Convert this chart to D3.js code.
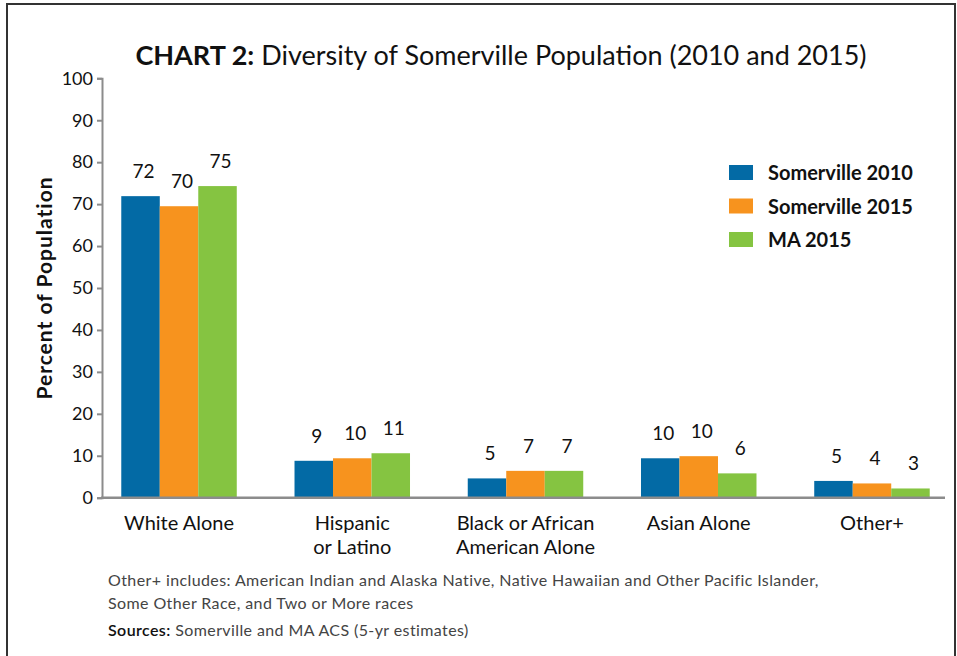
<!DOCTYPE html>
<html>
<head>
<meta charset="utf-8">
<script src="https://cdn.jsdelivr.net/npm/d3@7"></script>
<style>
  body { margin: 0; background: #fff; }
  svg { display: block; font-family: "Lato", "Open Sans", sans-serif; }
</style>
</head>
<body>
<svg id="chart" width="957" height="656"></svg>
<script>
// chart data
const categories = ["White Alone", "Hispanic\nor Latino", "Black or African\nAmerican Alone", "Asian Alone", "Other+"];
const series_names = ["Somerville 2010", "Somerville 2015", "MA 2015"];
const somerville_2010 = [71.9, 8.8, 4.6, 9.4, 4.0];
const somerville_2015 = [69.5, 9.4, 6.4, 9.9, 3.4];
const ma_2015 = [74.3, 10.6, 6.4, 5.8, 2.2];
// the printed labels, as shown on the chart
const labels_2010 = ["72", "9", "5", "10", "5"];
const labels_2015 = ["70", "10", "7", "10", "4"];
const labels_ma = ["75", "11", "7", "6", "3"];
const y_ticks = [0, 10, 20, 30, 40, 50, 60, 70, 80, 90, 100];

const COLORS = ["#036aa5", "#f7931e", "#85c441"];
const AXIS_COLOR = "#8c8c8c";

const series = [
  { name: series_names[0], values: somerville_2010, labels: labels_2010 },
  { name: series_names[1], values: somerville_2015, labels: labels_2015 },
  { name: series_names[2], values: ma_2015, labels: labels_ma },
];

const svg = d3.select("#chart");

// frame (top, left and right edges)
svg.append("path")
  .attr("d", "M7,656 V4 H955 V656")
  .attr("fill", "none")
  .attr("stroke", "#333")
  .attr("stroke-width", 2);

// scales
let y = d3.scaleLinear().domain([0, 100]).range([497.7, 78.3]);
let x0 = d3.scaleBand()
  .domain(categories)
  .range([92.4, 958.6])
  .paddingInner(1 / 3)
  .paddingOuter(1 / 6);
let x1 = d3.scaleBand()
  .domain(series_names)
  .range([0, x0.bandwidth()]);

// title
let title = svg.append("text")
  .attr("x", 501)
  .attr("y", 65)
  .attr("text-anchor", "middle")
  .style("font-size", "27px")
  .style("fill", "#111");
title.append("tspan").style("font-weight", "bold").text("CHART 2:");
title.append("tspan").text(" Diversity of Somerville Population (2010 and 2015)");

// y axis
let y_axis = svg.append("g")
  .attr("transform", "translate(102,0)")
  .call(d3.axisLeft(y).tickValues(y_ticks).tickSize(5).tickPadding(4));
y_axis.select(".domain").attr("stroke", AXIS_COLOR).attr("stroke-width", 2);
y_axis.selectAll(".tick line").attr("stroke", AXIS_COLOR).attr("stroke-width", 2);
y_axis.selectAll(".tick text")
  .style("font-size", "18px")
  .style("font-family", "Lato, 'Open Sans', sans-serif")
  .attr("fill", "#111");

svg.append("text")
  .attr("transform", "translate(52,288) rotate(-90)")
  .attr("text-anchor", "middle")
  .style("font-size", "21px")
  .style("letter-spacing", "1px")
  .style("font-weight", "bold")
  .style("fill", "#111")
  .text("Percent of Population");

// bars
let groups = svg.append("g").selectAll("g")
  .data(categories)
  .join("g")
  .attr("transform", (d) => `translate(${x0(d)},0)`);

groups.selectAll("rect")
  .data((d, i) => series.map((s, k) => ({ s: s.name, v: s.values[i], k: k })))
  .join("rect")
  .attr("x", (d) => x1(d.s))
  .attr("y", (d) => y(d.v))
  .attr("width", x1.bandwidth())
  .attr("height", (d) => y(0) - y(d.v))
  .attr("fill", (d) => COLORS[d.k]);

groups.selectAll("text.value")
  .data((d, i) => series.map((s) => ({ s: s.name, v: s.values[i], label: s.labels[i] })))
  .join("text")
  .attr("class", "value")
  .attr("x", (d) => x1(d.s) + x1.bandwidth() / 2 + 3)
  .attr("y", (d) => y(d.v) - 18)
  .attr("text-anchor", "middle")
  .style("font-size", "19px")
  .style("fill", "#111")
  .text((d) => d.label);

// x axis line
svg.append("line")
  .attr("x1", 101)
  .attr("x2", 945)
  .attr("y1", y(0))
  .attr("y2", y(0))
  .attr("stroke", AXIS_COLOR)
  .attr("stroke-width", 2.5);

// category labels
categories.forEach((c) => {
  let t = svg.append("text")
    .attr("x", x0(c) + x0.bandwidth() / 2)
    .attr("y", 530)
    .attr("text-anchor", "middle")
    .style("font-size", "20px")
    .style("fill", "#111");
  c.split("\n").forEach((line, i) => {
    t.append("tspan")
      .attr("x", x0(c) + x0.bandwidth() / 2)
      .attr("dy", i == 0 ? 0 : 24)
      .text(line);
  });
});

// legend
let legend = svg.append("g").attr("transform", "translate(729,165)");
series.forEach((s, i) => {
  legend.append("rect")
    .attr("x", 0)
    .attr("y", i * 33.5)
    .attr("width", 24)
    .attr("height", 15)
    .attr("fill", COLORS[i]);
  legend.append("text")
    .attr("x", 39)
    .attr("y", i * 33.5 + 15)
    .style("font-size", "20px")
    .style("font-weight", "bold")
    .style("fill", "#111")
    .text(s.name);
});

// footnotes
let note_style = (sel) => sel
  .style("font-size", "16px")
  .style("letter-spacing", "0.4px")
  .style("fill", "#444")
  .style("font-family", "Lato, 'Open Sans', sans-serif");

svg.append("text").attr("x", 108).attr("y", 586).call(note_style)
  .text("Other+ includes: American Indian and Alaska Native, Native Hawaiian and Other Pacific Islander,");
svg.append("text").attr("x", 108).attr("y", 609).call(note_style)
  .text("Some Other Race, and Two or More races");
let src = svg.append("text").attr("x", 108).attr("y", 636).call(note_style);
src.append("tspan").style("font-weight", "600").style("fill", "#111").text("Sources:");
src.append("tspan").text("  Somerville and MA ACS (5-yr estimates)");
</script>
</body>
</html>
